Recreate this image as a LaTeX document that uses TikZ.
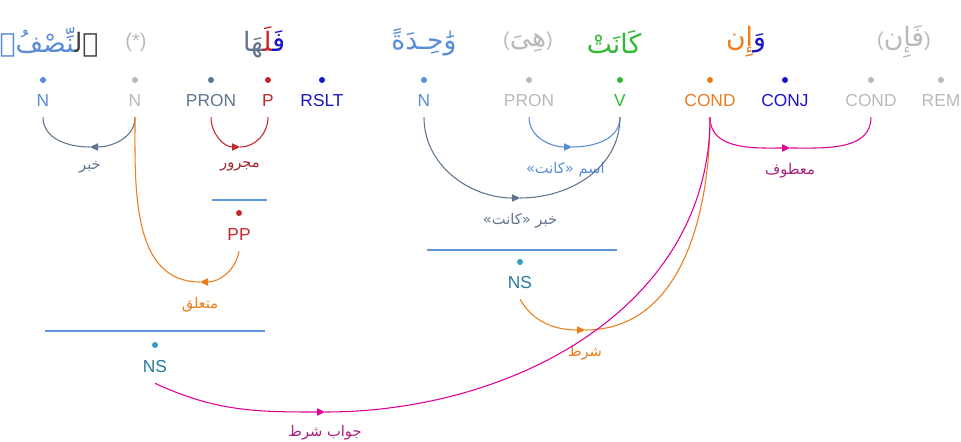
\documentclass[tikz,border=0pt]{standalone}
\usepackage{fontspec}
\usepackage{tikz}
\usetikzlibrary{positioning,arrows.meta}
\newfontfamily\tagfont{Liberation Sans}
\newfontfamily\arabicfont[Script=Arabic]{DejaVu Sans}
\TeXXeTstate=1
\definecolor{nblue}{RGB}{88,140,214}
\definecolor{lgray}{RGB}{185,185,185}
\definecolor{slate}{RGB}{96,116,142}
\definecolor{pred}{RGB}{196,40,44}
\definecolor{lred}{RGB}{160,40,44}
\definecolor{dblue}{RGB}{24,20,200}
\definecolor{vgreen}{RGB}{48,184,48}
\definecolor{corange}{RGB}{236,124,28}
\definecolor{cmag}{RGB}{222,0,150}
\definecolor{lmag}{RGB}{168,32,128}
\definecolor{nsteal}{RGB}{38,122,156}
\definecolor{nsdot}{RGB}{54,156,196}
\definecolor{gline}{RGB}{96,150,222}
\definecolor{dgray}{RGB}{64,64,64}
\newcommand\parfont{\tagfont\fontsize{15}{18}\selectfont}

\begin{document}
\begin{tikzpicture}[x=0.75pt,y=0.75pt,
    dot/.style={circle,fill,inner sep=0pt,minimum size=4.5pt},
    tag/.style={font=\tagfont\fontsize{13}{15}\selectfont,inner sep=0pt,minimum height=24pt},
    word/.style={font=\arabicfont\fontsize{20}{24}\selectfont,inner sep=0pt},
    lbl/.style={font=\arabicfont\fontsize{11}{13}\selectfont,inner sep=1pt},
    arc/.style={line width=0.8pt},
    tip/.style={arc,-{Triangle[length=6pt,width=5.5pt]}},
    grp/.style={draw=gline,line width=0.8pt}]
\useasboundingbox (0,0) rectangle (961,-442);

\node[word] (w1) at (49,-42) {{\color{nblue}‍نِّصْفُۚ}{\color{dgray}ٱل‍}};
\node[word,font=\parfont,text=lgray] (w2) at (136,-42) {(*)};
\node[word] (w3) at (264,-42) {{\color{slate}‍هَا}{\color{pred}‍لَ‍}{\color{dblue}فَ‍}};
\node[word,text=nblue] (w4) at (424,-42) {وَٰحِـدَةً};
\node[word,text=lgray] (w5) at (528,-42) {{\parfont(}هِىَ{\parfont)}};
\node[word,text=vgreen] (w6) at (614,-42) {كَانَتْ};
\node[word] (w7) at (746,-42) {{\color{corange}إِن}{\color{dblue}وَ}};
\node[word,text=lgray] (w8) at (904,-42) {{\parfont(}فَإِن{\parfont)}};

\foreach \x/\n/\t/\c in {43/t1/N/nblue,135/t2/N/lgray,211/t3/PRON/slate,268/t4/P/pred,
    322/t5/RSLT/dblue,424/t6/N/nblue,529/t7/PRON/lgray,620/t8/V/vgreen,
    710/t9/COND/corange,785/t10/CONJ/dblue,871/t11/COND/lgray,941/t12/REM/lgray}{
  \node[dot,\c] (d\n) at (\x,-80) {};
  \node[tag,text=\c] (\n) at (\x,-101) {\t};
}

\coordinate (g1a) at (212,-200);
\coordinate (g1b) at (267,-200);
\draw[grp] (g1a) -- (g1b);
\node[dot,pred] (dpp) at (239,-213) {};
\node[tag,text=pred] (pp) at (239,-235) {PP};

\coordinate (g2a) at (427,-250);
\coordinate (g2b) at (617,-250);
\draw[grp] (g2a) -- (g2b);
\node[dot,nsdot] (dns2) at (520,-262) {};
\node[tag,text=nsteal] (ns2) at (520,-283) {NS};

\coordinate (g3a) at (45,-331);
\coordinate (g3b) at (265,-331);
\draw[grp] (g3a) -- (g3b);
\node[dot,nsdot] (dns1) at (155,-345) {};
\node[tag,text=nsteal] (ns1) at (155,-367) {NS};

\coordinate (m1) at (90,-147);
\coordinate (m2) at (240,-147);
\coordinate (m3) at (200,-282);
\coordinate (m4) at (572,-147);
\coordinate (m5) at (520,-198);
\coordinate (m6) at (790,-148);
\coordinate (m7) at (585,-330);
\coordinate (m8) at (325,-412);

\draw[tip,slate] (t2.south) to[out=-90,in=0] (m1);
\draw[arc,slate] (m1) to[out=180,in=-90] (t1.south);
\node[lbl,text=slate,below=10pt of m1] {\beginR خبر\endR};

\draw[tip,pred] (t3.south) to[out=-90,in=180] (m2);
\draw[arc,pred] (m2) to[out=0,in=-90] (t4.south);
\node[lbl,text=lred,below=10pt of m2] {\beginR مجرور\endR};

\draw[tip,corange] (pp.south) to[out=-100,in=0] (m3);
\draw[arc,corange] (m3) to[out=180,in=-90] (t2.south);
\node[lbl,text=corange,below=10pt of m3] {\beginR متعلق\endR};

\draw[tip,nblue] (t7.south) to[out=-90,in=180] (m4);
\draw[arc,nblue] (m4) to[out=0,in=-90] (t8.south);
\node[lbl,text=nblue,below=10pt of m4,xshift=-5pt] {\beginR اسم «كانت»\endR};

\draw[tip,slate] (t6.south) to[out=-90,in=180] (m5);
\draw[arc,slate] (m5) to[out=0,in=-90] (t8.south);
\node[lbl,text=slate,below=10pt of m5] {\beginR خبر «كانت»\endR};

\draw[tip,cmag] (t9.south) to[out=-90,in=180] (m6);
\draw[arc,cmag] (m6) to[out=0,in=-90] (t11.south);
\node[lbl,text=lmag,below=10pt of m6] {\beginR معطوف\endR};

\draw[tip,corange] (ns2.south) to[out=-60,in=180] (m7);
\draw[arc,corange] (m7) to[out=0,in=-90] (t9.south);
\node[lbl,text=corange,below=10pt of m7] {\beginR شرط\endR};

\draw[tip,cmag] (ns1.south) to[out=-25,in=180] (m8);
\draw[arc,cmag] (m8) to[out=0,in=-90] (t9.south);
\node[lbl,text=lmag,below=9pt of m8] {\beginR جواب شرط\endR};
\end{tikzpicture}
\end{document}
